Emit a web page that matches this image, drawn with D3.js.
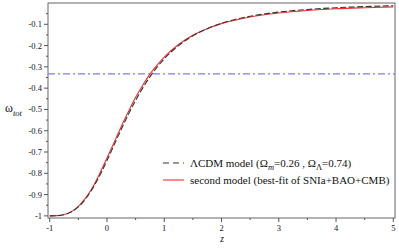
<!DOCTYPE html>
<html><head><meta charset="utf-8">
<script src="https://cdn.jsdelivr.net/npm/d3@7"></script>
<style>body{margin:0;background:#fff}svg{display:block}text{font-family:"Liberation Serif","Times New Roman",serif;fill:#111}</style>
</head><body>
<svg id="c" width="399" height="248"></svg>
<script>
const zValues = [-1,-0.875,-0.75,-0.625,-0.5,-0.375,-0.25,-0.125,0,0.125,0.25,0.375,0.5,0.625,0.75,0.875,1,1.25,1.5,1.75,2,2.25,2.5,3,3.5,4,4.5,5];
const lcdm = [-1,-0.9993,-0.9945,-0.9818,-0.958,-0.921,-0.871,-0.8095,-0.74,-0.6665,-0.593,-0.5226,-0.4575,-0.3988,-0.347,-0.3016,-0.2624,-0.1999,-0.1541,-0.1204,-0.0954,-0.0766,-0.0623,-0.0426,-0.0303,-0.0223,-0.0168,-0.013];
const secondModel = [-1,-0.999,-0.994,-0.980,-0.955,-0.917,-0.866,-0.800,-0.728,-0.655,-0.580,-0.510,-0.443,-0.386,-0.334,-0.292,-0.254,-0.195,-0.152,-0.121,-0.097,-0.080,-0.066,-0.047,-0.035,-0.027,-0.022,-0.018];
const xTicks = [-1,0,1,2,3,4,5];
const yTicks = [-1,-0.9,-0.8,-0.7,-0.6,-0.5,-0.4,-0.3,-0.2,-0.1];
const refLine = -1/3;

const svg = d3.select("#c");
const x = d3.scaleLinear().domain([-1.03,5.03]).range([48,395]);
const y = d3.scaleLinear().domain([-1.01,0]).range([218,3]);
const F = "Liberation Serif, Times New Roman, serif";

svg.append("rect").attr("x",48).attr("y",3).attr("width",347).attr("height",215)
  .attr("fill","none").attr("stroke","#666").attr("stroke-width",1);

const yMinor = d3.range(-0.95,0,0.1);
yTicks.forEach(v=>{
  svg.append("line").attr("x1",44).attr("x2",48).attr("y1",y(v)).attr("y2",y(v)).attr("stroke","#555");
  svg.append("text").attr("font-family",F).attr("x",42).attr("y",y(v)+3).attr("text-anchor","end").attr("font-size",8.5).text(v===-1?"-1":"-"+d3.format(".1f")(-v));
});
yMinor.forEach(v=>{
  svg.append("line").attr("x1",46).attr("x2",48).attr("y1",y(v)).attr("y2",y(v)).attr("stroke","#555");
});
xTicks.forEach(v=>{
  svg.append("line").attr("x1",x(v)).attr("x2",x(v)).attr("y1",218).attr("y2",222).attr("stroke","#555");
  svg.append("text").attr("font-family",F).attr("x",x(v)).attr("y",231).attr("text-anchor","middle").attr("font-size",8.5).text(v);
});
d3.range(-0.5,5,1).forEach(v=>{
  svg.append("line").attr("x1",x(v)).attr("x2",x(v)).attr("y1",218).attr("y2",220).attr("stroke","#555");
});

svg.append("text").attr("font-family",F).attr("x",222).attr("y",242).attr("text-anchor","middle").attr("font-size",9.5).attr("font-style","italic").text("z");
const yl = svg.append("text").attr("font-family",F).attr("x",5).attr("y",112).attr("font-size",12);
yl.append("tspan").text("ω");
yl.append("tspan").attr("dy",4).attr("font-size",8.5).attr("font-style","italic").text("tot");

svg.append("line").attr("x1",48).attr("x2",395).attr("y1",y(refLine)).attr("y2",y(refLine))
  .attr("stroke","#7c7cf5").attr("stroke-width",1.2).attr("stroke-dasharray","7,3,2,3");

const line = d3.line().x((d,i)=>x(zValues[i])).y(d=>y(d)).curve(d3.curveMonotoneX);
svg.append("path").attr("d",line(secondModel)).attr("fill","none").attr("stroke","#f03030").attr("stroke-width",1.1);
svg.append("path").attr("d",line(lcdm)).attr("fill","none").attr("stroke","#333").attr("stroke-width",1.1).attr("stroke-dasharray","6,2.5");

svg.append("line").attr("x1",163).attr("x2",184).attr("y1",163).attr("y2",163).attr("stroke","#333").attr("stroke-width",1.1).attr("stroke-dasharray","6,4");
svg.append("line").attr("x1",163).attr("x2",184).attr("y1",180).attr("y2",180).attr("stroke","#f03030").attr("stroke-width",1.1);
const t1 = svg.append("text").attr("font-family",F).attr("x",190).attr("y",166.5).attr("font-size",11);
t1.append("tspan").text("ΛCDM  model (Ω");
t1.append("tspan").attr("dy",3).attr("font-size",8.5).attr("font-style","italic").text("m");
t1.append("tspan").attr("dy",-3).text("=0.26 , Ω");
t1.append("tspan").attr("dy",3).attr("font-size",8.5).text("Λ");
t1.append("tspan").attr("dy",-3).text("=0.74)");
svg.append("text").attr("font-family",F).attr("x",190).attr("y",183.5).attr("font-size",11).text("second model (best-fit of SNIa+BAO+CMB)");
</script>
</body></html>
